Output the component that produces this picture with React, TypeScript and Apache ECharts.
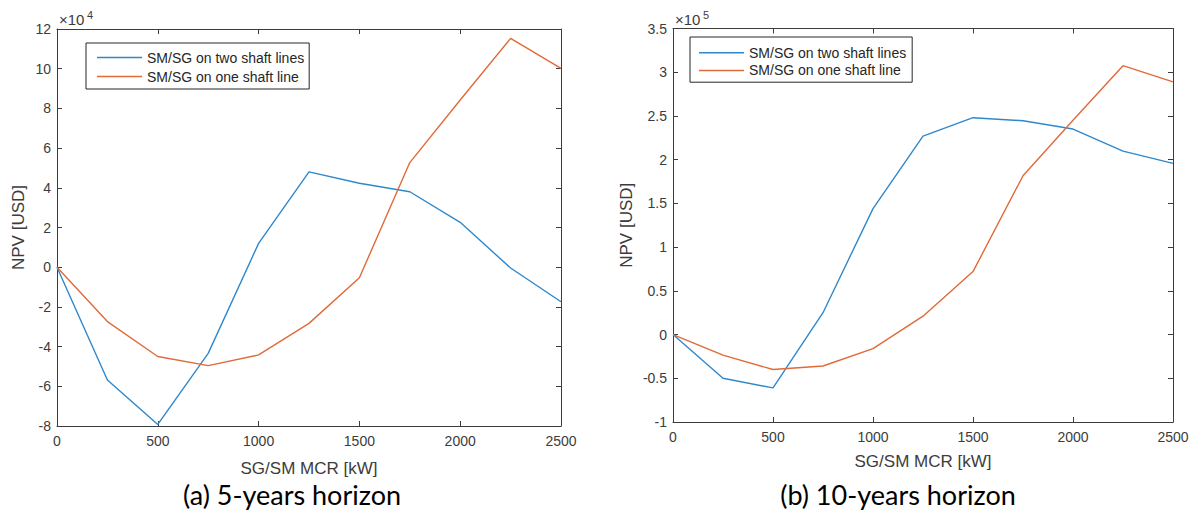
import React, { useEffect, useRef } from "react";
import * as echarts from "echarts";

const xValues = [0, 250, 500, 750, 1000, 1250, 1500, 1750, 2000, 2250, 2500];

// 5-years horizon (USD)
const twoShaft5 = [0, -56800, -79200, -43400, 12000, 48000, 42300, 38000, 22600, -400, -17400];
const oneShaft5 = [0, -27400, -45000, -49600, -44200, -28300, -5300, 52700, 84200, 115300, 100200];

// 10-years horizon (USD)
const twoShaft10 = [0, -50000, -61000, 25000, 144000, 227000, 248000, 244500, 235000, 209800, 195800];
const oneShaft10 = [0, -23600, -40000, -36000, -16000, 21000, 72000, 181600, 245000, 307500, 289000];

const seriesNames = ["SM/SG on two shaft lines", "SM/SG on one shaft line"];
const xTicks = { min: 0, max: 2500, interval: 500 };
const y5Ticks = { min: -80000, max: 120000, interval: 20000, scale: 1e4, exp: "4" };
const y10Ticks = { min: -100000, max: 350000, interval: 50000, scale: 1e5, exp: "5" };
const captions = ["(a) 5-years horizon", "(b) 10-years horizon"];
const xName = "SG/SM MCR [kW]";
const yName = "NPV [USD]";

const BLUE = "#2f88cc";
const ORANGE = "#e06a38";
const AX = "#3c3c3c";
const FONT = "'Liberation Sans', Arial, sans-serif";

const pairs = (ys: number[]) => xValues.map((x, i) => [x, ys[i]]);

export default function App() {
  const ref = useRef<HTMLDivElement>(null);
  useEffect(() => {
    if (!ref.current) return;
    const chart = echarts.init(ref.current, null, { renderer: "svg" });

    const grids = [
      { left: 57, top: 29, width: 504, height: 397 },
      { left: 673, top: 28.5, width: 500, height: 393.5 },
    ];
    const yT = [y5Ticks, y10Ticks];
    const yNameGap = [30, 38];
    const xNameGap = [34, 31];

    const xAxes: any[] = [];
    const yAxes: any[] = [];
    grids.forEach((g, gi) => {
      const axisLine = { show: true, onZero: false, lineStyle: { color: AX, width: 1 } };
      const tick = { show: true, inside: true, length: 5, lineStyle: { color: AX, width: 1 } };
      xAxes.push({
        type: "value", gridIndex: gi, position: "bottom", ...xTicks,
        axisLine, axisTick: tick, splitLine: { show: false },
        axisLabel: { color: AX, fontSize: 14, fontFamily: FONT, margin: 8, formatter: (v: number) => String(v) },
        name: xName, nameLocation: "middle", nameGap: xNameGap[gi],
        nameTextStyle: { color: AX, fontSize: 17, fontFamily: FONT },
      });
      xAxes.push({
        type: "value", gridIndex: gi, position: "top", ...xTicks,
        axisLine, axisTick: tick, splitLine: { show: false }, axisLabel: { show: false },
      });
      const t = yT[gi];
      yAxes.push({
        type: "value", gridIndex: gi, position: "left",
        min: t.min, max: t.max, interval: t.interval,
        axisLine, axisTick: tick, splitLine: { show: false },
        axisLabel: {
          color: AX, fontSize: 14, fontFamily: FONT, margin: 6,
          formatter: (v: number) => String(Math.round((v / t.scale) * 100) / 100),
        },
        name: yName, nameLocation: "middle", nameGap: yNameGap[gi],
        nameTextStyle: { color: AX, fontSize: 17, fontFamily: FONT },
      });
      yAxes.push({
        type: "value", gridIndex: gi, position: "right",
        min: t.min, max: t.max, interval: t.interval,
        axisLine, axisTick: tick, splitLine: { show: false }, axisLabel: { show: false },
      });
    });

    const mk = (name: string, ys: number[], color: string, gi: number) => ({
      type: "line", name, data: pairs(ys), xAxisIndex: gi * 2, yAxisIndex: gi * 2,
      symbol: "none", showSymbol: false,
      lineStyle: { color, width: 1.4 }, itemStyle: { color },
    });

    const legendBase = {
      orient: "vertical", data: seriesNames, selectedMode: false,
      borderColor: "#262626", borderWidth: 1, backgroundColor: "#fff",
      icon: "rect", itemWidth: 45, itemHeight: 1.5,
    };

    chart.setOption({
      animation: false,
      backgroundColor: "#fff",
      grid: grids,
      xAxis: xAxes,
      yAxis: yAxes,
      legend: [
        {
          ...legendBase, left: 86, top: 43, padding: [5, 5, 3, 11], itemGap: 0,
          textStyle: { color: "#262626", fontSize: 14, fontFamily: FONT, lineHeight: 19 },
        },
        {
          ...legendBase, left: 690, top: 37, padding: [7, 6, 3, 9], itemGap: 0,
          textStyle: { color: "#262626", fontSize: 14, fontFamily: FONT, lineHeight: 17.6 },
        },
      ],
      series: [
        mk(seriesNames[0], twoShaft5, BLUE, 0),
        mk(seriesNames[1], oneShaft5, ORANGE, 0),
        mk(seriesNames[0], twoShaft10, BLUE, 1),
        mk(seriesNames[1], oneShaft10, ORANGE, 1),
      ],
      graphic: [
        { type: "text", left: 59, top: 12, style: { text: "×10", fontSize: 15, fontFamily: FONT, fill: AX } },
        { type: "text", left: 87, top: 9, style: { text: y5Ticks.exp, fontSize: 11, fontFamily: FONT, fill: AX } },
        { type: "text", left: 675, top: 12, style: { text: "×10", fontSize: 15, fontFamily: FONT, fill: AX } },
        { type: "text", left: 703, top: 9, style: { text: y10Ticks.exp, fontSize: 11, fontFamily: FONT, fill: AX } },
        {
          type: "text", x: 292, y: 494,
          style: { text: captions[0], fontSize: 27, fontFamily: "Lato, 'Open Sans', sans-serif", fill: "#000", align: "center", verticalAlign: "middle" },
        },
        {
          type: "text", x: 898, y: 494,
          style: { text: captions[1], fontSize: 27, fontFamily: "Lato, 'Open Sans', sans-serif", fill: "#000", align: "center", verticalAlign: "middle" },
        },
      ],
    });
    return () => chart.dispose();
  }, []);
  return <div ref={ref} style={{ position: "fixed", left: 0, top: 0, width: 1195, height: 513, background: "#fff" }} />;
}
